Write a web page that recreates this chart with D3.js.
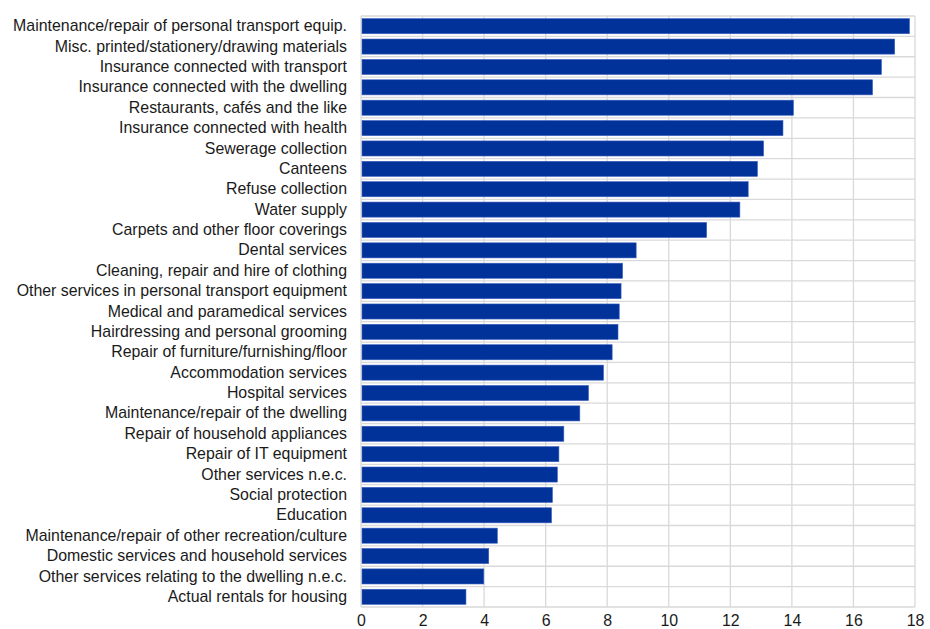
<!DOCTYPE html>
<html><head><meta charset="utf-8">
<script src="https://cdn.jsdelivr.net/npm/d3@7"></script>
<style>body{margin:0;background:#fff}svg{display:block}text{font-family:"Liberation Sans",Arial,sans-serif;fill:#1a1a1a}</style>
</head><body>
<script>
const categories = [
"Maintenance/repair of personal transport equip.",
"Misc. printed/stationery/drawing materials",
"Insurance connected with transport",
"Insurance connected with the dwelling",
"Restaurants, cafés and the like",
"Insurance connected with health",
"Sewerage collection",
"Canteens",
"Refuse collection",
"Water supply",
"Carpets and other floor coverings",
"Dental services",
"Cleaning, repair and hire of clothing",
"Other services in personal transport equipment",
"Medical and paramedical services",
"Hairdressing and personal grooming",
"Repair of furniture/furnishing/floor",
"Accommodation services",
"Hospital services",
"Maintenance/repair of the dwelling",
"Repair of household appliances",
"Repair of IT equipment",
"Other services n.e.c.",
"Social protection",
"Education",
"Maintenance/repair of other recreation/culture",
"Domestic services and household services",
"Other services relating to the dwelling n.e.c.",
"Actual rentals for housing"];
const values = [17.82,17.34,16.91,16.62,14.05,13.71,13.08,12.88,12.58,12.31,11.23,8.94,8.50,8.45,8.39,8.35,8.16,7.88,7.39,7.11,6.59,6.43,6.38,6.22,6.19,4.43,4.15,3.99,3.41];
const xTicks = [0,2,4,6,8,10,12,14,16,18];

const W=930,H=629, L=361, R=915, T=16, B=607;
const svg=d3.select("body").append("svg").attr("width",W).attr("height",H);
const x=d3.scaleLinear().domain([0,18]).range([L,R]);
const y=d3.scaleBand().domain(categories).range([T,B]).paddingInner(0.26).paddingOuter(0.13);
const grid="#d9d9d9";
svg.append("g").selectAll("line").data(xTicks).join("line")
 .attr("x1",d=>x(d)).attr("x2",d=>x(d)).attr("y1",T).attr("y2",B)
 .attr("stroke",grid).attr("stroke-width",1.3);
const step=(B-T)/categories.length;
svg.append("g").selectAll("line").data(d3.range(categories.length+1)).join("line")
 .attr("x1",L).attr("x2",R).attr("y1",d=>T+d*step).attr("y2",d=>T+d*step)
 .attr("stroke",grid).attr("stroke-width",1.3);
svg.append("g").selectAll("rect").data(values).join("rect")
 .attr("x",x(0)+1).attr("y",(d,i)=>y(categories[i]))
 .attr("width",d=>x(d)-x(0)-1).attr("height",y.bandwidth())
 .attr("fill","#003299").attr("stroke","#3a5fc0").attr("stroke-width",0.6);
const ya=d3.axisLeft(y).tickSize(0).tickPadding(14);
const gy=svg.append("g").attr("transform",`translate(${L},0)`).call(ya);
gy.select(".domain").remove();
gy.selectAll("text").style("font-size","15.9px").style("font-family","'Liberation Sans',Arial,sans-serif").attr("fill","#1a1a1a");
const xa=d3.axisBottom(x).tickValues(xTicks).tickSize(0).tickPadding(8).tickFormat(d3.format("d"));
const gx=svg.append("g").attr("transform",`translate(0,${B})`).call(xa);
gx.select(".domain").remove();
gx.selectAll("text").style("font-size","15.9px").style("font-family","'Liberation Sans',Arial,sans-serif").attr("fill","#1a1a1a");
</script>
</body></html>
